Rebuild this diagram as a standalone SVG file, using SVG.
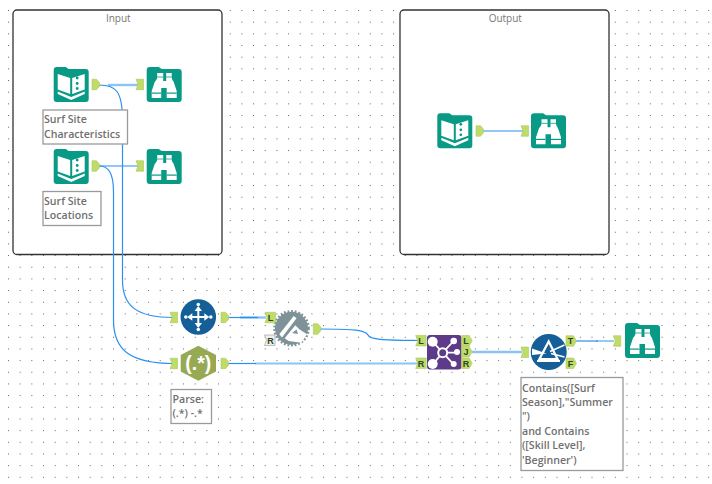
<svg xmlns="http://www.w3.org/2000/svg" width="712" height="484" viewBox="0 0 712 484">
<style>
.c{fill:none;stroke:#2a90f0;stroke-width:1.2}
.l{fill:none;stroke:#8cc4f6;stroke-width:2.400}
.t{font-family:"Open Sans","Liberation Sans",sans-serif;font-size:10.6px;fill:#707070;font-weight:600}
.h{font-family:"Open Sans","Liberation Sans",sans-serif;font-size:10px;fill:#777;text-anchor:middle}
.box{fill:#fff;stroke:#9a9a9a;stroke-width:1.3}
.cont{fill:#fff;stroke:#333;stroke-width:1.3}
.g{fill:#099a86}
.w{fill:#fff}
.ws{fill:none;stroke:#fff}
.p{fill:#bfdc68;stroke:#aac75c;stroke-width:.6}
.pl{font-family:"Liberation Sans",sans-serif;font-size:9px;font-weight:700;fill:#2b4526;text-anchor:middle}
</style>
<defs>
<pattern id="d" width="11.67" height="11.67" patternUnits="userSpaceOnUse" x="8" y="10"><rect width="1" height="1" fill="#666"/></pattern>
<g id="folder"><path d="M0 3Q0 0 3 0H12L15 2H32Q35 2 35 5V32Q35 35 32 35H3Q0 35 0 32Z" class="g"/></g>
<g id="book"><use href="#folder"/><path d="M4 7L16.500 11V27L4 22.500ZM18.500 11L31 7V22.500L18.500 27Z" class="w"/><path d="M4 24.500L17.500 30L31 24.500V27L17.500 33L4 27Z" class="w"/><circle cx="23.500" cy="11" r="1.400" class="g"/><circle cx="23.500" cy="16.500" r="1.400" class="g"/><circle cx="23.500" cy="21.500" r="1.400" class="g"/></g>
<g id="bino"><use href="#folder"/><path d="M10.500 6H16.500V14H19.500V6H25V11Q25.500 13 27 15L30 24V31H20V21H14.500V31H5V24L8 15Q10 13 10.500 11Z" class="w"/><path d="M10.500 10H16.500M19.500 10H25" stroke="#099a86" stroke-width=".8"/><rect x="5" y="25.500" width="9.500" height="1.200" class="g"/><rect x="20" y="25.500" width="10" height="1.200" class="g"/></g>
<path id="po" d="M0 0H4.500L7.500 3.500V7L4.500 10.500H0Z" class="p" transform="translate(0 -5.250)"/>
<path id="pi" d="M0 0H7.500V10.500H0L2 5.250Z" class="p" transform="translate(0 -5.250)"/>
<path id="pol" d="M0 0H7.500L10.500 5.250L7.500 10.500H0Z" class="p" transform="translate(0 -5.250)"/>
<path id="pil" d="M0 0H10.500V10.500H0L2 5.250Z" class="p" transform="translate(0 -5.250)"/>
</defs>
<rect width="712" height="484" fill="#fff"/>
<rect width="712" height="484" fill="url(#d)"/>
<g id="container-input"><rect class="cont" x="13" y="10" width="209" height="244.500" rx="4"/><text class="h" x="118.300" y="22">Input</text></g>
<g id="container-output"><rect class="cont" x="400" y="10" width="209" height="244.500" rx="4"/><text class="h" x="505.300" y="22">Output</text></g>
<g id="connectors">
<path class="l" d="M108 85H139"/>
<path class="c" d="M99 85C115 85 122.500 90 122.500 120V280C122.500 305 135 317.500 174 317.500"/>
<path class="c" d="M99 166H139"/>
<path class="c" d="M99 166C108 166 113.500 172 113.500 192V320C113.500 350 130 363.500 174 363.500"/>
<path class="c" d="M483 131H523"/>
<path class="l" d="M240 317.500H266"/>
<path class="c" d="M228 317.500H258"/>
<path class="c" d="M320 329C355 329 365 330 368 335C370 340 385 340 418 340.500"/>
<path class="l" d="M255 363.500H418" style="stroke-width:1.800"/>
<path class="c" d="M227 363.500H256"/>
<path class="l" d="M472 352H522"/>
<path class="l" d="M596 341H614" style="stroke-width:1.800"/>
<path class="c" d="M576 341H598"/>
</g>
<g id="n1"><use href="#book" x="53.700" y="67"/><use href="#po" x="92" y="84.500"/></g>
<g id="n1b"><use href="#bino" x="146.700" y="67"/><use href="#pi" x="136" y="84.500"/></g>
<g id="n1l"><rect class="box" x="43" y="110" width="84.500" height="34"/><text class="t" x="44" y="123.300">Surf Site</text><text class="t" x="44" y="137.700">Characteristics</text></g>
<g id="n2"><use href="#book" x="53.700" y="149"/><use href="#po" x="92" y="166"/></g>
<g id="n2b"><use href="#bino" x="146.700" y="149"/><use href="#pi" x="136" y="166"/></g>
<g id="n2l"><rect class="box" x="43" y="191.500" width="58" height="34"/><text class="t" x="44" y="205">Surf Site</text><text class="t" x="44" y="219">Locations</text></g>
<g id="n3"><use href="#book" x="437.300" y="113.300"/><use href="#po" x="476" y="131"/></g>
<g id="n3b"><use href="#bino" x="531" y="113.300"/><use href="#pi" x="521" y="131"/></g>
<g id="append"><circle cx="198.300" cy="317" r="17.800" fill="#155f99"/><path d="M198.300 306L202 311H199.300V316H204.300V313.300L209.300 317L204.300 320.700V318H199.300V323H202L198.300 328L194.600 323H197.300V318H192.300V320.700L187.300 317L192.300 313.300V316H197.300V311H194.600Z" class="w"/><circle cx="198.300" cy="304.500" r="1.800" class="w"/><circle cx="198.300" cy="329.500" r="1.800" class="w"/><circle cx="185.800" cy="317" r="1.800" class="w"/><circle cx="210.800" cy="317" r="1.800" class="w"/><use href="#pi" x="170" y="317.500"/><use href="#po" x="221" y="317.500"/></g>
<g id="formula"><circle cx="291.500" cy="328.300" r="16.500" fill="#7f9298"/><circle cx="291.500" cy="328.300" r="17" fill="none" stroke="#7f9298" stroke-width="2.600" stroke-dasharray="1.800 1.800"/><path d="M279.300 334.300L293.700 316L296.500 318.300L282 337.500Z" class="w"/><path d="M284.700 338.300L295.300 325.300L299.300 329.300L307 334.300L301.300 342.700L288.700 341Z" class="w"/><path d="M292 333L296.500 329.500L298 334Z" fill="#7f9298"/><use href="#pil" x="265" y="317.500"/><text class="pl" x="270.500" y="320.800">L</text><path d="M264.500 335H275V345.500H264.500L266.500 340Z" fill="#eee" stroke="#999" stroke-width=".6"/><text class="pl" x="270.500" y="343.500">R</text><use href="#po" x="313.300" y="329"/></g>
<g id="regex"><path d="M198.300 345.700L216 355V371.500L198.300 380.700L180.700 371.500V355Z" fill="#98a954"/><text x="198.300" y="369.500" text-anchor="middle" font-family="Liberation Sans,sans-serif" font-size="19.500" font-weight="700" fill="#fff">(.*)</text><use href="#pi" x="170" y="363.500"/><use href="#po" x="221" y="363.500"/></g>
<g id="regexl"><rect class="box" x="171" y="389.500" width="40.500" height="34"/><text class="t" x="172.500" y="403">Parse:</text><text class="t" x="172.500" y="417">(.*) -.*</text></g>
<g id="join"><rect x="427" y="335" width="34.500" height="34.500" rx="3" fill="#5d3a8a"/><path d="M432.700 341.700L442.700 352.700L432.700 364.300M453.700 341L442.700 352.700H457M442.700 352.700L453.700 364.300" fill="none" stroke="#fff" stroke-width="1.800"/><circle cx="442.700" cy="352.700" r="4.500" fill="#5d3a8a" stroke="#fff" stroke-width="2"/><circle cx="432.700" cy="341.700" r="5" class="w"/><circle cx="432.700" cy="364" r="5" class="w"/><circle cx="453.700" cy="341" r="3.300" class="w"/><circle cx="457" cy="352" r="3" class="w"/><circle cx="453.700" cy="364" r="3" class="w"/>
<use href="#pil" x="415.700" y="340.700"/><use href="#pil" x="415.700" y="363.300"/><use href="#pol" x="461.700" y="340.700"/><use href="#pol" x="461.700" y="351.700"/><use href="#pol" x="461.700" y="363.300"/>
<text class="pl" x="421" y="344">L</text><text class="pl" x="421" y="366.600">R</text><text class="pl" x="466" y="344">L</text><text class="pl" x="466" y="355">J</text><text class="pl" x="466" y="366.600">R</text></g>
<g id="filter"><circle cx="548.700" cy="352" r="18" fill="#155f99"/><path d="M548.700 341.500L557.500 359H539.500Z" class="ws" stroke-width="2.200"/><path d="M537 361H560" class="ws" stroke-width="2"/><path d="M532 348.500L546.500 353.500L532 355Z" class="w"/><path d="M550 351.500L564.500 345M551 353.500L564.500 357" class="ws" stroke-width="1.500"/><use href="#pi" x="521" y="352.300"/><use href="#pol" x="566" y="341"/><use href="#pol" x="566" y="363.300"/><text class="pl" x="570.500" y="344.300">T</text><text class="pl" x="570.500" y="366.600">F</text></g>
<g id="filterl"><rect class="box" x="521" y="377.500" width="102" height="93"/><text class="t" x="522" y="391.500">Contains([Surf</text><text class="t" x="522" y="406">Season],"Summer</text><text class="t" x="522" y="420">")</text><text class="t" x="522" y="435">and Contains</text><text class="t" x="522" y="449">([Skill Level],</text><text class="t" x="522" y="464">'Beginner')</text></g>
<g id="n4"><use href="#bino" x="625" y="323"/><use href="#pi" x="613.300" y="341"/></g>
</svg>
